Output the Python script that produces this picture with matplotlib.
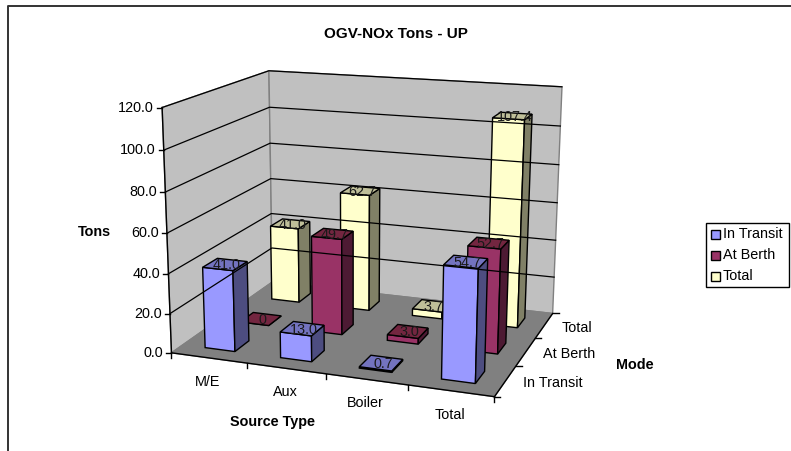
import numpy as np
import matplotlib
matplotlib.use('Agg')
import matplotlib.pyplot as plt
from matplotlib.patches import Polygon, Rectangle

plt.rcParams['font.family'] = ['Liberation Sans', 'DejaVu Sans']

sources = ['M/E', 'Aux', 'Boiler', 'Total']
modes = ['In Transit', 'At Berth', 'Total']
in_transit = [41.0, 13.0, 0.7, 54.7]
at_berth = [0, 49.7, 3.0, 52.7]
total = [41.0, 62.7, 3.7, 107.4]
series = [in_transit, at_berth, total]
yticks = [0, 20, 40, 60, 80, 100, 120]

front = ['#9999FF', '#993366', '#FFFFCC']
side = ['#4D4D80', '#4D1A33', '#808066']
top = ['#7373BF', '#732640', '#BFBF99']
fs = 10.4

# picture position of the box corners, (source, mode, tons) -> pixel
corners = [((0, 0, 0), (172, 353)), ((4, 0, 0), (494, 397)), ((4, 3, 0), (553, 313)),
           ((0, 3, 0), (272, 282)), ((0, 0, 120), (162, 107)), ((0, 3, 120), (269, 71)),
           ((4, 3, 120), (562, 87))]
rows = []
rhs = []
for (x, y, z), (u, v) in corners:
    rows.append([x, y, z, 1, 0, 0, 0, 0, -u*x, -u*y, -u*z])
    rhs.append(u)
    rows.append([0, 0, 0, 0, x, y, z, 1, -v*x, -v*y, -v*z])
    rhs.append(v)
P = np.linalg.lstsq(np.array(rows, float), np.array(rhs, float), rcond=None)[0]
P = np.append(P, 1).reshape(3, 4)

def proj(x, y, z):
    p = P @ np.array([x, y, z, 1.0])
    return p[0]/p[2], p[1]/p[2]

fig = plt.figure(figsize=(7.91, 4.51), dpi=100)
ax = fig.add_axes([0, 0, 1, 1])
ax.set_xlim(0, 791)
ax.set_ylim(451, 0)
ax.axis('off')

def face(pts, color, ec='black', lw=1.0):
    ax.add_patch(Polygon([proj(*p) for p in pts], closed=True, fc=color, ec=ec, lw=lw, joinstyle='miter'))

# chart area border, cut off at the right and bottom
ax.plot([8, 8, 791], [451, 6, 6], color='#333333', lw=1.4)

# walls and floor
face([(0, 0, 0), (0, 3, 0), (0, 3, 120), (0, 0, 120)], '#C0C0C0', '#808080')
face([(0, 3, 0), (4, 3, 0), (4, 3, 120), (0, 3, 120)], '#C0C0C0', '#808080')
face([(0, 0, 0), (4, 0, 0), (4, 3, 0), (0, 3, 0)], '#808080', '#808080')
ax.plot(*zip(proj(0, 0, 0), proj(0, 0, 120)), color='black', lw=1)
ax.plot(*zip(proj(0, 0, 0), proj(4, 0, 0)), color='black', lw=1)
ax.plot(*zip(proj(4, 0, 0), proj(4, 3, 0)), color='black', lw=1)

for t in yticks[1:]:
    ax.plot(*zip(proj(0, 0, t), proj(0, 3, t), proj(4, 3, t)), color='black', lw=0.9)

for t in yticks:
    u, v = proj(0, 0, t)
    ax.plot([u-5, u], [v, v], color='black', lw=1)
    ax.text(u-8, v, '%.1f' % t, ha='right', va='center', fontsize=fs)

for i in range(5):
    u, v = proj(i, 0, 0)
    ax.plot([u, u], [v, v+5], color='black', lw=1)
for i, s in enumerate(sources):
    u, v = proj(i+0.5, 0, 0)
    ax.text(u-1, v+24, s, ha='center', va='center', fontsize=fs)
for j in range(4):
    u, v = proj(4, j, 0)
    ax.plot([u, u+6], [v, v], color='black', lw=1)
for j, m in enumerate(modes):
    u, v = proj(4, j+0.5, 0)
    ax.text(u+17, v+2.5, m, ha='left', va='center', fontsize=fs)

# bars, back row first
d = 0.3
for j in [2, 1, 0]:
    for i in range(4):
        h = series[j][i]
        x0, x1 = i+d, i+1-d
        y0, y1 = j+d, j+1-d
        face([(x0, y0, 0), (x1, y0, 0), (x1, y0, h), (x0, y0, h)], front[j])
        face([(x1, y0, 0), (x1, y1, 0), (x1, y1, h), (x1, y0, h)], side[j])
        face([(x0, y0, h), (x1, y0, h), (x1, y1, h), (x0, y1, h)], top[j])
for j in [2, 1, 0]:
    for i in range(4):
        h = series[j][i]
        u, v = proj(i+0.5, j+0.5, h)
        lab = '0' if h == 0 else '%.1f' % h
        ax.text(u+2, v+1, lab, ha='center', va='center', fontsize=fs, color='#1a1a1a')

ax.text(396, 34, 'OGV-NOx Tons - UP', ha='center', va='center', fontsize=11, fontweight='bold')
ax.text(94, 232, 'Tons', ha='center', va='center', fontsize=fs, fontweight='bold')
ax.text(273, 422, 'Source Type', ha='center', va='center', fontsize=fs, fontweight='bold')
ax.text(635, 365, 'Mode', ha='center', va='center', fontsize=fs, fontweight='bold')

# legend
ax.add_patch(Rectangle((706, 223), 83, 64, fc='white', ec='black', lw=1))
for k, m in enumerate(modes):
    ax.add_patch(Rectangle((711, 229.5+21*k), 9, 9, fc=front[k], ec='black', lw=1))
    ax.text(723, 234+21*k, m, ha='left', va='center', fontsize=fs)

fig.savefig('out.png', dpi=100)
